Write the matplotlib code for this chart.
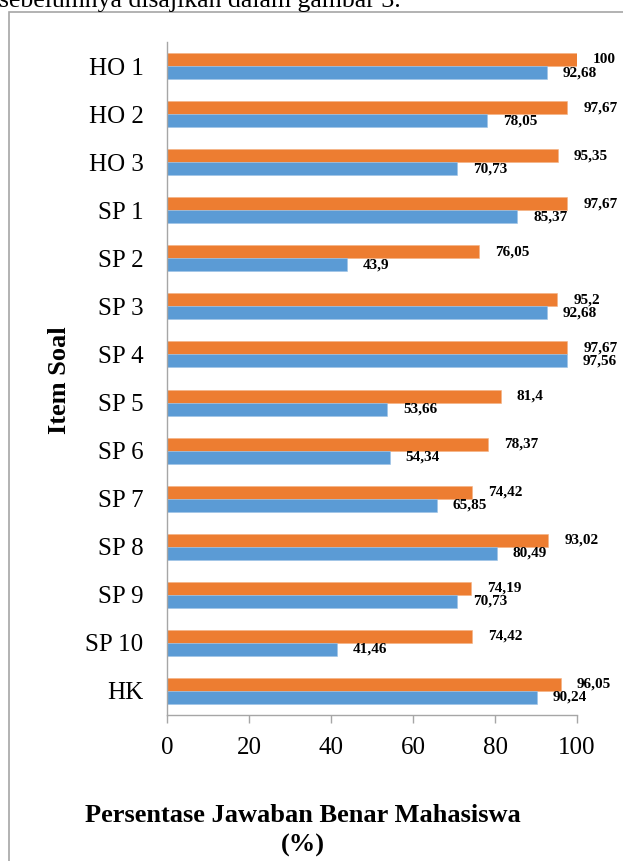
import matplotlib
matplotlib.use('Agg')
import matplotlib.pyplot as plt
import matplotlib.patches as mpatches
import numpy as np

plt.rcParams['font.family'] = ['Liberation Serif', 'DejaVu Serif']

items = ['HO 1', 'HO 2', 'HO 3', 'SP 1', 'SP 2', 'SP 3', 'SP 4', 'SP 5',
         'SP 6', 'SP 7', 'SP 8', 'SP 9', 'SP 10', 'HK']
orange_vals = [100, 97.67, 95.35, 97.67, 76.05, 95.2, 97.67, 81.4,
               78.37, 74.42, 93.02, 74.19, 74.42, 96.05]
blue_vals = [92.68, 78.05, 70.73, 85.37, 43.9, 92.68, 97.56, 53.66,
             54.34, 65.85, 80.49, 70.73, 41.46, 90.24]
xticks = [0, 20, 40, 60, 80, 100]

ORANGE = '#ED7D31'
BLUE = '#5B9BD5'
GREY = '#a6a6a6'

W, H = 623, 861
fig = plt.figure(figsize=(W / 100, H / 100), dpi=100)
ax = fig.add_axes([167 / W, 1 - 715 / H, 410 / W, 673 / H])

y = np.arange(len(items))
bh = 0.27
ax.barh(y - bh / 2, orange_vals, height=bh, color=ORANGE, edgecolor='#f4b183', linewidth=0.4)
ax.barh(y + bh / 2, blue_vals, height=bh, color=BLUE, edgecolor='#9dc3e6', linewidth=0.4)

def fmt(v):
    s = ('%.2f' % v).rstrip('0').rstrip('.')
    return s.replace('.', ',')

for i in range(len(items)):
    ax.text(orange_vals[i] + 3.9, y[i] - bh / 2, fmt(orange_vals[i]), va='center', ha='left',
            fontsize=11, fontweight='bold', clip_on=False)
    ax.text(blue_vals[i] + 3.9, y[i] + bh / 2, fmt(blue_vals[i]), va='center', ha='left',
            fontsize=11, fontweight='bold', clip_on=False)

ax.set_xlim(0, 100)
ax.set_ylim(len(items) - 0.5, -0.5)
ax.set_yticks(y)
ax.set_yticklabels(items, fontsize=18)
ax.set_xticks(xticks)
ax.set_xticklabels([str(t) for t in xticks], fontsize=18)
ax.tick_params(axis='y', length=0, pad=17)
ax.tick_params(axis='x', length=6, width=1, color=GREY, direction='out', pad=10)
for s in ['top', 'right']:
    ax.spines[s].set_visible(False)
for s in ['left', 'bottom']:
    ax.spines[s].set_color(GREY)
    ax.spines[s].set_linewidth(1)

fig.text(59 / W, 1 - 380 / H, 'Item Soal', rotation=90, ha='center', va='center',
         fontsize=19, fontweight='bold')
fig.text(303 / W, 1 - 815 / H, 'Persentase Jawaban Benar Mahasiswa', ha='center', va='center',
         fontsize=19, fontweight='bold')
fig.text(303 / W, 1 - 845 / H, '(%)', ha='center', va='center',
         fontsize=19, fontweight='bold')

# chart frame and the line of body text above it
frame = mpatches.Rectangle((9 / W, -0.1), 1.2, 1 - 12 / H + 0.1, transform=fig.transFigure,
                           fill=False, edgecolor=GREY, linewidth=1.2, clip_on=False)
fig.add_artist(frame)
fig.text(-1 / W, 1 - 7.5 / H, 'sebelumnya disajikan dalam gambar 3.', ha='left', va='baseline',
         fontsize=18.5)

fig.savefig('out.png', dpi=100)
